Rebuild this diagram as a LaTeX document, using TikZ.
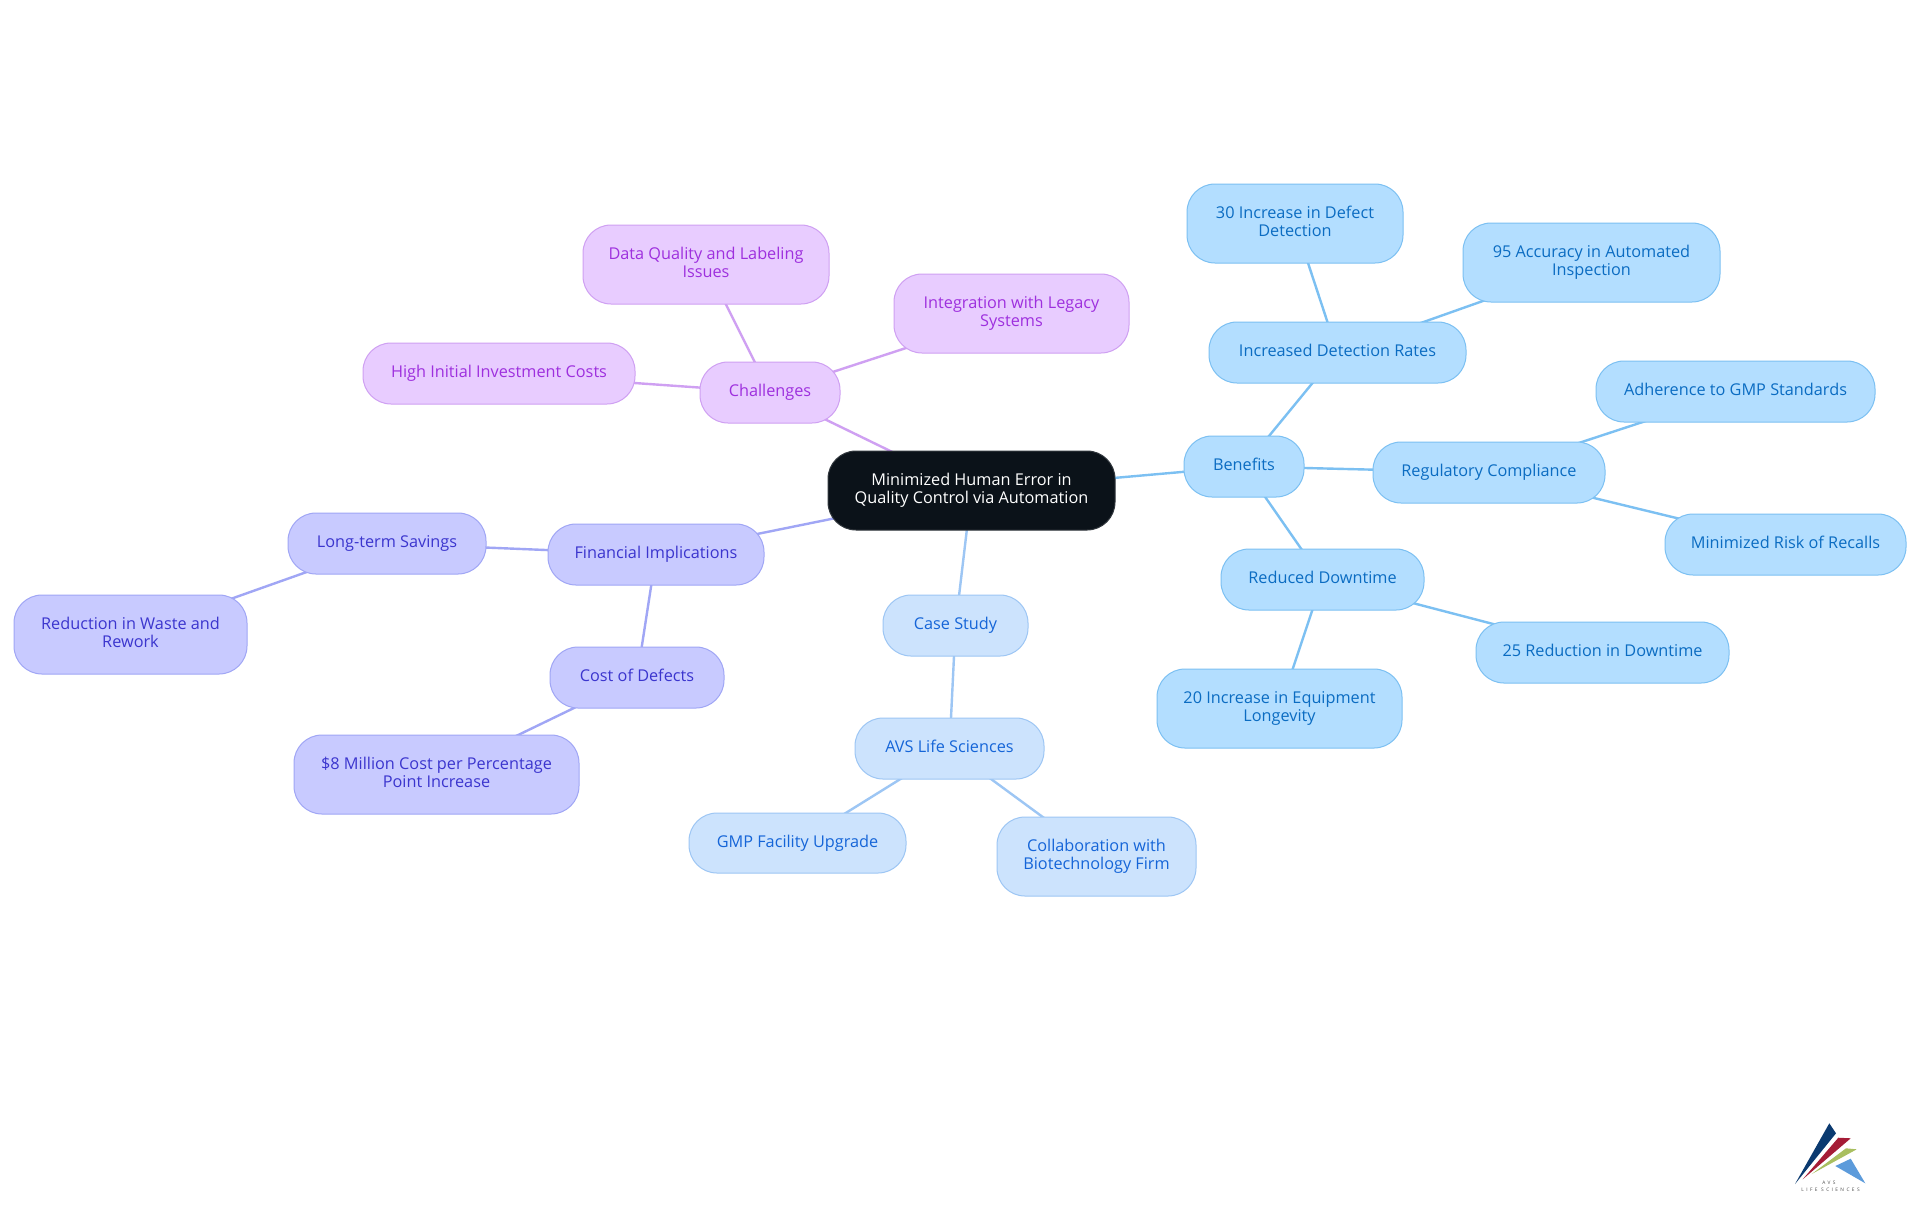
\documentclass[tikz,border=0pt]{standalone}
\usepackage{fontspec}
\setmainfont{Open Sans}
\usetikzlibrary{backgrounds}
\definecolor{bfill}{HTML}{B3DEFF}\definecolor{bline}{HTML}{7CC0F2}\definecolor{btext}{HTML}{0B6CC2}
\definecolor{cfill}{HTML}{CCE3FD}\definecolor{cline}{HTML}{9DC6F4}\definecolor{ctext}{HTML}{1565D8}
\definecolor{ffill}{HTML}{C8CAFF}\definecolor{fline}{HTML}{A0A6F5}\definecolor{ftext}{HTML}{3B35CE}
\definecolor{hfill}{HTML}{E8CCFF}\definecolor{hline}{HTML}{CFA0F2}\definecolor{htext}{HTML}{9E30DE}
\definecolor{rootfill}{HTML}{0B1219}
\definecolor{lnavy}{HTML}{0B3A70}\definecolor{lred}{HTML}{A51C36}\definecolor{lgreen}{HTML}{A9BF60}\definecolor{lblue}{HTML}{5C9BDB}
\newcommand{\strutup}{\rule{0pt}{11pt}}
\newcommand{\strutdn}{\rule[-4.4pt]{0pt}{4.4pt}}
\newcommand{\mapnode}[7]{%
  \pgfmathsetmacro{\mnw}{(#5-#3)*0.75}%
  \pgfmathsetmacro{\mnh}{(#6-#4)*0.75}%
  \node[mapbox,#2,minimum width=\mnw pt,minimum height=\mnh pt] (#1) at ({(#3+#5)/2},{(#4+#6)/2}) {\strutup #7\strutdn};}
\tikzset{
  mapbox/.style={draw,rounded corners=21pt,inner sep=0pt,align=center,line width=0.75pt,font=\fontsize{12.2}{13.5}\selectfont},
  rootbox/.style={fill=rootfill,draw=rootfill!85!white,text=white},
  benbox/.style={fill=bfill,draw=bline,text=btext},
  casebox/.style={fill=cfill,draw=cline,text=ctext},
  finbox/.style={fill=ffill,draw=fline,text=ftext},
  chalbox/.style={fill=hfill,draw=hline,text=htext},
  benedge/.style={draw=bline,line width=1.8pt},
  caseedge/.style={draw=cline,line width=1.8pt},
  finedge/.style={draw=fline,line width=1.8pt},
  chaledge/.style={draw=hline,line width=1.8pt},
  logotext/.style={inner sep=0pt,text=black!70,font=\fontsize{3.6}{4}\selectfont\addfontfeature{LetterSpace=50}},
}
\begin{document}
\begin{tikzpicture}[x=0.75pt,y=-0.75pt]
\useasboundingbox (0,0) rectangle (1920,1215);
\mapnode{root}{rootbox}{828}{451}{1115}{530}{Minimized Human Error in\\Quality Control via Automation}
\mapnode{benefits}{benbox}{1184}{436}{1304}{497}{Benefits}
\mapnode{detect}{benbox}{1209}{322}{1466}{383}{Increased Detection Rates}
\mapnode{thirty}{benbox}{1187}{184}{1403}{263}{30 Increase in Defect\\Detection}
\mapnode{ninety}{benbox}{1463}{223}{1720}{302}{95 Accuracy in Automated\\Inspection}
\mapnode{reg}{benbox}{1373}{442}{1605}{503}{Regulatory Compliance}
\mapnode{gmp}{benbox}{1596}{361}{1875}{422}{Adherence to GMP Standards}
\mapnode{recall}{benbox}{1665}{514}{1906}{575}{Minimized Risk of Recalls}
\mapnode{down}{benbox}{1221}{549}{1424}{610}{Reduced Downtime}
\mapnode{twentyfive}{benbox}{1476}{622}{1729}{683}{25 Reduction in Downtime}
\mapnode{twenty}{benbox}{1157}{669}{1402}{748}{20 Increase in Equipment\\Longevity}
\mapnode{case}{casebox}{883}{595}{1028}{656}{Case Study}
\mapnode{avs}{casebox}{855}{718}{1044}{779}{AVS Life Sciences}
\mapnode{upgrade}{casebox}{689}{813}{906}{873}{GMP Facility Upgrade}
\mapnode{collab}{casebox}{997}{817}{1196}{896}{Collaboration with\\Biotechnology Firm}
\mapnode{fin}{finbox}{548}{524}{764}{585}{Financial Implications}
\mapnode{long}{finbox}{288}{513}{486}{574}{Long-term Savings}
\mapnode{waste}{finbox}{14}{595}{247}{674}{Reduction in Waste and\\Rework}
\mapnode{cost}{finbox}{550}{647}{724}{708}{Cost of Defects}
\mapnode{eight}{finbox}{294}{735}{579}{814}{\$8 Million Cost per Percentage\\Point Increase}
\mapnode{chal}{chalbox}{700}{362}{840}{423}{Challenges}
\mapnode{high}{chalbox}{363}{343}{635}{404}{High Initial Investment Costs}
\mapnode{data}{chalbox}{583}{225}{829}{304}{Data Quality and Labeling\\Issues}
\mapnode{legacy}{chalbox}{894}{274}{1129}{353}{Integration with Legacy\\Systems}
\begin{scope}[on background layer]
\fill[white] (0,0) rectangle (1920,1215);
\draw[benedge] (root.center) -- (benefits.center);
\draw[benedge] (benefits.center) -- (detect.center);
\draw[benedge] (detect.center) -- (thirty.center);
\draw[benedge] (detect.center) -- (ninety.center);
\draw[benedge] (benefits.center) -- (reg.center);
\draw[benedge] (reg.center) -- (gmp.center);
\draw[benedge] (reg.center) -- (recall.center);
\draw[benedge] (benefits.center) -- (down.center);
\draw[benedge] (down.center) -- (twentyfive.center);
\draw[benedge] (down.center) -- (twenty.center);
\draw[caseedge] (root.center) -- (case.center);
\draw[caseedge] (case.center) -- (avs.center);
\draw[caseedge] (avs.center) -- (upgrade.center);
\draw[caseedge] (avs.center) -- (collab.center);
\draw[finedge] (root.center) -- (fin.center);
\draw[finedge] (fin.center) -- (long.center);
\draw[finedge] (long.center) -- (waste.center);
\draw[finedge] (fin.center) -- (cost.center);
\draw[finedge] (cost.center) -- (eight.center);
\draw[chaledge] (root.center) -- (chal.center);
\draw[chaledge] (chal.center) -- (high.center);
\draw[chaledge] (chal.center) -- (data.center);
\draw[chaledge] (chal.center) -- (legacy.center);
\end{scope}
% logo
\fill[lnavy] (1829.3,1123.3) -- (1836,1133.3) -- (1795,1184) -- cycle;
\fill[lred] (1838.3,1137.7) -- (1850.7,1138.3) -- (1802.7,1179.3) -- cycle;
\fill[lgreen] (1846,1148.3) -- (1856.7,1149.3) -- (1811.7,1174) -- cycle;
\fill[lblue] (1850.7,1158.7) -- (1865.3,1183.3) -- (1835.3,1166) -- cycle;
\node[logotext] (logoa) at (1829,1182.5) {AVS};
\node[logotext] (logob) at (1830.5,1189.5) {LIFE SCIENCES};
\end{tikzpicture}
\end{document}
